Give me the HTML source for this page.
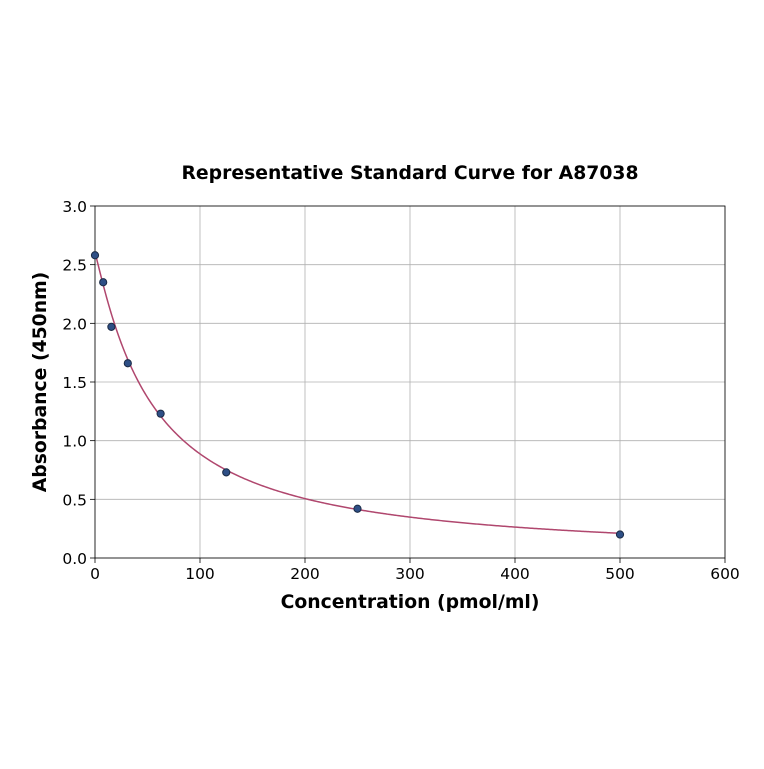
<!DOCTYPE html>
<html><head><meta charset="utf-8"><style>
body{margin:0;background:#fff;}
svg text{font-family:"DejaVu Sans","Liberation Sans",sans-serif;}
</style></head><body>
<svg id="chart" width="764" height="764">
<rect width="764" height="764" fill="#fff"/>
<text x="410" y="179" text-anchor="middle" font-size="18.8" font-weight="bold">Representative Standard Curve for A87038</text>
<g id="grid"></g><g id="axes"></g><g id="curve"></g><g id="pts"></g>
<text x="410" y="608" text-anchor="middle" font-size="18.8" font-weight="bold">Concentration (pmol/ml)</text>
<text transform="translate(46,382) rotate(-90)" text-anchor="middle" font-size="18.8" font-weight="bold">Absorbance (450nm)</text>
</svg>
<script>
const xConc = [0, 7.8, 15.6, 31.25, 62.5, 125, 250, 500];
const yAbs = [2.58, 2.35, 1.97, 1.66, 1.23, 0.73, 0.42, 0.2];
const xTicks = [0, 100, 200, 300, 400, 500, 600];
const yTicks = [0.0, 0.5, 1.0, 1.5, 2.0, 2.5, 3.0];
const fitParams = [2.6, 1.1, 55, 0.0]; // a, b, c, d (4PL)

const X0=95,X1=725,Y0=558,Y1=206;
const sx=v=>X0+(v-0)/(600-0)*(X1-X0);
const sy=v=>Y0-(v-0)/(3-0)*(Y0-Y1);
const NS="http://www.w3.org/2000/svg";
function mk(tag,attrs,parent){const e=document.createElementNS(NS,tag);for(const k in attrs)e.setAttribute(k,attrs[k]);parent.appendChild(e);return e;}
const grid=document.getElementById('grid'),axes=document.getElementById('axes');
xTicks.forEach(t=>{
  const l=mk('line',{x1:sx(t),x2:sx(t),y1:Y1,y2:Y0,stroke:'#b0b0b0','stroke-width':0.8},grid);
  
  
  mk('line',{x1:sx(t),x2:sx(t),y1:Y0,y2:Y0+5,stroke:'#000','stroke-width':0.8},axes);
  const tx=mk('text',{x:sx(t),y:Y0+21,'text-anchor':'middle','font-size':15.5},axes);
  tx.textContent=t;
  
  
});
yTicks.forEach(t=>{
  const l=mk('line',{x1:X0,x2:X1,y1:sy(t),y2:sy(t),stroke:'#b0b0b0','stroke-width':0.8},grid);
  
  
  mk('line',{x1:X0-5,x2:X0,y1:sy(t),y2:sy(t),stroke:'#000','stroke-width':0.8},axes);
  const tx=mk('text',{x:X0-8,y:sy(t)+6,'text-anchor':'end','font-size':15.5},axes);
  tx.textContent=t.toFixed(1);
  
  
});
const frame=mk('rect',{x:X0,y:Y1,width:X1-X0,height:Y0-Y1,fill:'none',stroke:'#000','stroke-width':0.8},axes);


const [a,b,c,d]=fitParams;
const f=x=>d+(a-d)/(1+Math.pow(x/c,b));
let dstr='';
const xmax=xConc[xConc.length-1];
for(let i=0;i<=400;i++){const x=xmax*i/400;dstr+=(i?'L':'M')+sx(x).toFixed(2)+','+sy(f(x)).toFixed(2);}
const path=mk('path',{d:dstr,fill:'none',stroke:'#b0476e','stroke-width':1.5},document.getElementById('curve'));


xConc.forEach((x,i)=>{
  const p=mk('circle',{cx:sx(x),cy:sy(yAbs[i]),r:3.6,fill:'#2e4f86',stroke:'#1a2a45','stroke-width':1},document.getElementById('pts'));
  
  
});
</script>
</body></html>
